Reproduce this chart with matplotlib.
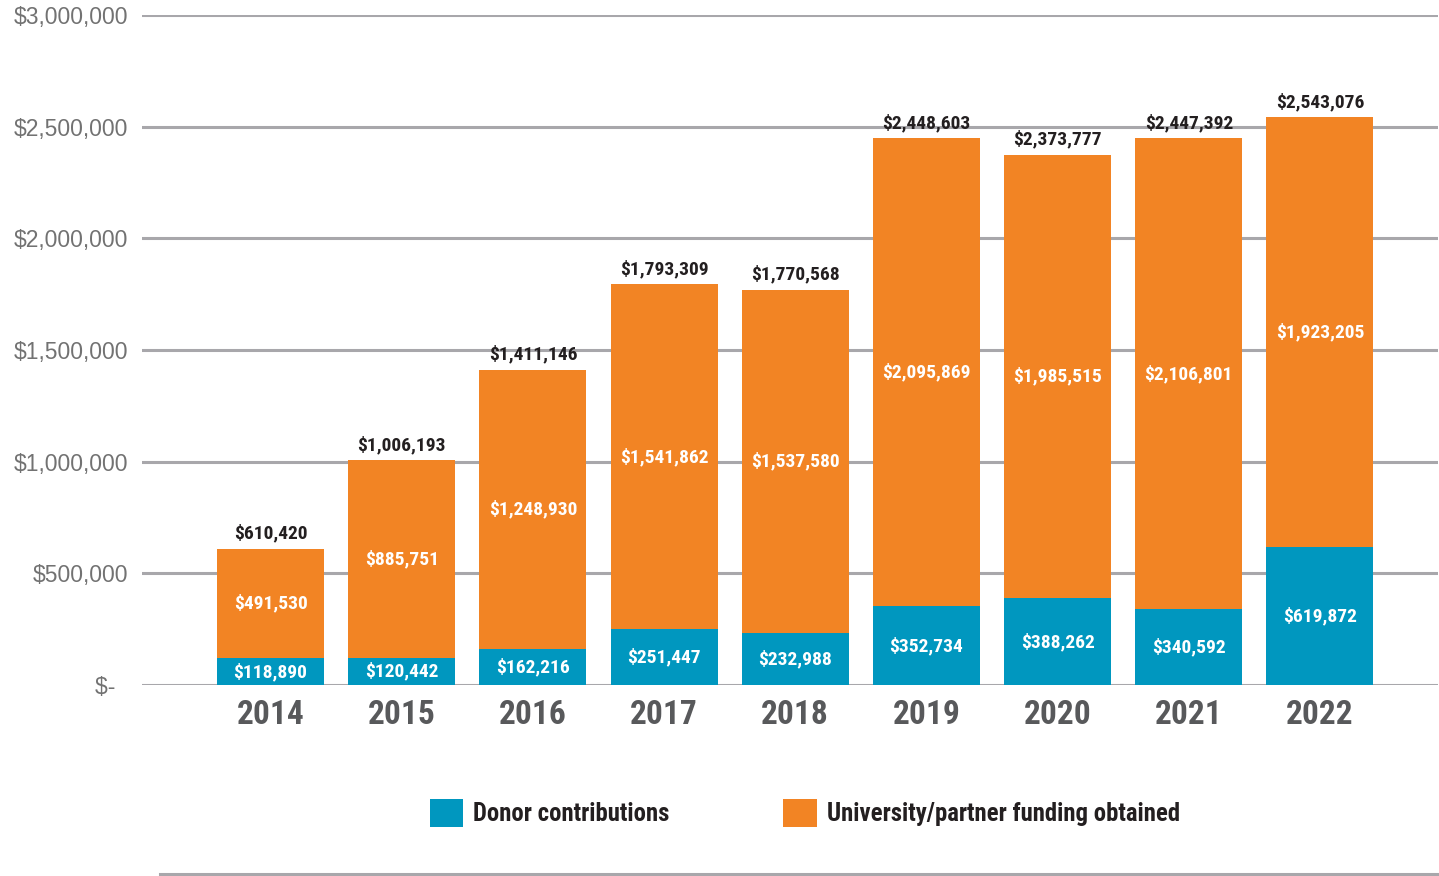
import matplotlib
matplotlib.use("Agg")
import matplotlib.pyplot as plt
from matplotlib import font_manager as fm
from matplotlib.lines import Line2D
from matplotlib.patches import Patch

years = ['2014', '2015', '2016', '2017', '2018', '2019', '2020', '2021', '2022']
donor = [118890, 120442, 162216, 251447, 232988, 352734, 388262, 340592, 619872]
university = [491530, 885751, 1248930, 1541862, 1537580, 2095869, 1985515, 2106801, 1923205]
totals = [610420, 1006193, 1411146, 1793309, 1770568, 2448603, 2373777, 2447392, 2543076]
y_ticks = [0, 500000, 1000000, 1500000, 2000000, 2500000, 3000000]
y_tick_labels = ['$-  ', '$500,000', '$1,000,000', '$1,500,000', '$2,000,000', '$2,500,000', '$3,000,000']
series_names = ['Donor contributions', 'University/partner funding obtained']

BLUE = '#0097BF'
ORANGE = '#F28424'
GRID = '#A8A7AB'

available = {f.name for f in fm.fontManager.ttflist}
cond = 'DejaVu Sans'
for cand in ['Liberation Sans Narrow', 'Roboto Condensed', 'Open Sans Condensed', 'DejaVu Sans Condensed']:
    if cand in available:
        cond = cand
        break
reg = 'Liberation Sans' if 'Liberation Sans' in available else 'DejaVu Sans'

fig = plt.figure(figsize=(14.39, 8.76), dpi=100)
ax = fig.add_axes([142 / 1439, 1 - 685 / 876, (1438 - 142) / 1439, (685 - 15) / 876])

x = list(range(len(years)))
w = 0.815
ax.bar(x, donor, width=w, color=BLUE, zorder=3)
ax.bar(x, university, width=w, bottom=donor, color=ORANGE, zorder=3)

for i in x:
    ax.text(i, donor[i] / 2, f'${donor[i]:,}', ha='center', va='center',
            color='white', fontsize=14, fontweight='bold', family=cond, zorder=4)
    ax.text(i, donor[i] + university[i] / 2, f'${university[i]:,}', ha='center', va='center',
            color='white', fontsize=14, fontweight='bold', family=cond, zorder=4)
    ax.annotate(f'${totals[i]:,}', xy=(i, totals[i]), xytext=(0, 11), textcoords='offset points',
                ha='center', va='center', color='#231F20', fontsize=14, fontweight='bold',
                family=cond, zorder=4)

ax.set_xlim(-0.98, 8.9)
ax.set_ylim(0, 3000000)
ax.set_yticks(y_ticks)
ax.set_yticklabels(y_tick_labels, family=reg, fontsize=16.5, color='#727272')
ax.set_xticks(x)
ax.set_xticklabels(years, family=cond, fontsize=24, fontweight='bold', color='#58595B')
ax.tick_params(axis='both', length=0)
ax.tick_params(axis='y', pad=10)
ax.tick_params(axis='x', pad=10)
ax.yaxis.grid(True, color=GRID, linewidth=2.2, zorder=0)
ax.set_axisbelow(True)
for s in ax.spines.values():
    s.set_visible(False)

handles = [Patch(facecolor=BLUE, edgecolor='none'), Patch(facecolor=ORANGE, edgecolor='none')]
leg = fig.legend(handles, series_names, loc='center', bbox_to_anchor=(805 / 1439, 1 - 813 / 876),
                 ncol=2, frameon=False, handlelength=1.35, handleheight=1.35, handletextpad=0.42,
                 columnspacing=4.6, prop={'family': cond, 'weight': 'bold', 'size': 17.8})
for t in leg.get_texts():
    t.set_color('#231F20')

fig.add_artist(Line2D([160 / 1439, 1438 / 1439], [1 - 874 / 876] * 2, color=GRID, linewidth=2.2))

fig.savefig('out.png', dpi=100)
